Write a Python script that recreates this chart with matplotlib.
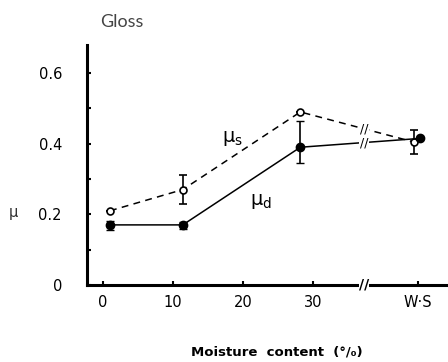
import numpy as np
import matplotlib

matplotlib.use("Agg")
import matplotlib.pyplot as plt
from matplotlib.ticker import MultipleLocator

# moisture content (%); the last point is water-saturated, placed past the axis break
moisture = [1.0, 11.4, 28.2, 44.4]
moisture_d = [1.0, 11.4, 28.2, 45.3]
mu_s = [0.21, 0.27, 0.49, 0.405]
mu_s_err = [0.0, 0.04, 0.0, 0.035]
mu_d = [0.17, 0.17, 0.39, 0.415]
mu_d_err_lo = [0.015, 0.012, 0.045, 0.0]
mu_d_err_hi = [0.01, 0.008, 0.075, 0.0]

x_ticks = [0, 10, 20, 30, 45]
x_labels = ["0", "10", "20", "30", "W·S"]
y_ticks = [0, 0.2, 0.4, 0.6]
y_labels = ["0", "0.2", "0.4", "0.6"]
BREAK_X = 37.3

fig = plt.figure(figsize=(4.48, 3.62), dpi=100)
ax = fig.add_axes([0.194, 0.213, 0.806, 0.663])

ax.errorbar(moisture, mu_s, yerr=mu_s_err, fmt="o--", color="black",
            mfc="white", mec="black", ms=5, mew=1.2, lw=1.1,
            capsize=3, elinewidth=1.2, dashes=(4.5, 3.5))
ax.errorbar(moisture_d, mu_d, yerr=[mu_d_err_lo, mu_d_err_hi], fmt="o-",
            color="black", ms=6, lw=1.1, capsize=3, elinewidth=1.2)

# break marks on both curves between 30 % and W.S
for xs, ys in ((moisture, mu_s), (moisture_d, mu_d)):
    yb = np.interp(BREAK_X, xs, ys)
    ax.text(BREAK_X, yb, "//", ha="center", va="center", fontsize=9,
            bbox=dict(boxstyle="square,pad=0.05", fc="white", ec="none"))
ax.text(BREAK_X, 0, "//", ha="center", va="center", fontsize=10,
        fontweight="bold", clip_on=False,
        bbox=dict(boxstyle="square,pad=0.0", fc="white", ec="none"))

ax.text(17, 0.405, r"$\mathregular{\mu_s}$", fontsize=14)
ax.text(21, 0.225, r"$\mathregular{\mu_d}$", fontsize=14)

ax.set_xlim(-2.3, 49.3)
ax.set_ylim(0, 0.68)
ax.set_xticks(x_ticks, x_labels)
ax.set_yticks(y_ticks, y_labels)
ax.yaxis.set_minor_locator(MultipleLocator(0.1))
ax.tick_params(direction="in", length=3, width=1.5, labelsize=10.5)
ax.tick_params(axis="x", pad=7)
ax.tick_params(axis="y", pad=18)
ax.tick_params(axis="y", which="minor", direction="in", length=3, width=1.5)

for side in ("top", "right"):
    ax.spines[side].set_visible(False)
for side in ("left", "bottom"):
    ax.spines[side].set_linewidth(2.2)

fig.text(13 / 448, 1 - 213 / 362, "μ", fontsize=10.5, color="#333333",
         ha="center", va="center")
fig.text(100 / 448, 1 - 22 / 362, "Gloss", fontsize=13, color="#444444",
         family="Lato", ha="left", va="center")
fig.text(277 / 448, 1 - 352 / 362, "Moisture  content  (°/₀)", fontsize=9.5,
         fontweight="bold", ha="center", va="center")

fig.savefig("out.png", dpi=100, facecolor="white")
